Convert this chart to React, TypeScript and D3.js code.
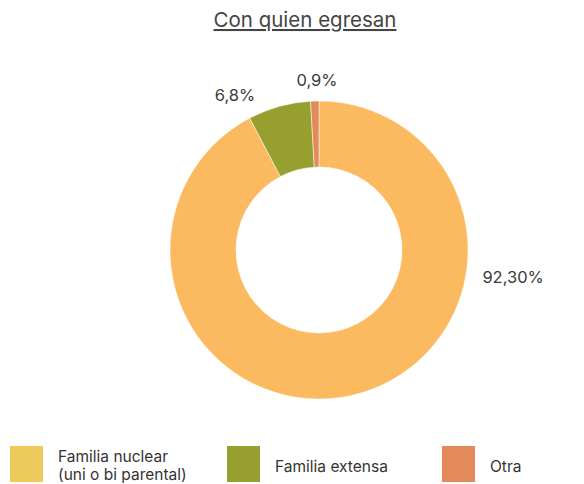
import { useMemo } from 'react';
import * as d3 from 'd3';

const CATEGORIES = ['Familia nuclear', 'Familia extensa', 'Otra'];
const LEGEND_LINES = [['Familia nuclear', '(uni o bi parental)'], ['Familia extensa'], ['Otra']];
const VALUES = [92.3, 6.8, 0.9];
const VALUE_LABELS = ['92,30%', '6,8%', '0,9%'];
const SLICE_COLORS = ['#fbb960', '#97a02f', '#e38a5a'];
const LEGEND_COLORS = ['#edc85a', '#97a02f', '#e38a5a'];

const W = 584;
const H = 484;
const CX = 319;
const CY = 250;
const R_OUT = 149;
const R_IN = 83;

// where each value label sits: angle (deg from 12 o'clock) and distance
const LABEL_POS = [
  { a: 98, r: 196 },
  { a: 331.5, r: 176 },
  { a: 359.3, r: 170 },
];

export default function App() {
  const arcs = useMemo(() => {
    const pie = d3
      .pie<number>()
      .sort(null)
      .value((d) => d);
    return pie(VALUES);
  }, []);

  const arc = d3.arc<d3.PieArcDatum<number>>().innerRadius(R_IN).outerRadius(R_OUT);
  const legendX = d3.scaleOrdinal<number, number>().domain([0, 1, 2]).range([10, 227, 442]);

  return (
    <svg
      width={W}
      height={H}
      style={{ position: 'absolute', left: 0, top: 0, fontFamily: 'Inter, sans-serif' }}
    >
      <rect width={W} height={H} fill="#fff" />
      <text
        x={305}
        y={27}
        textAnchor="middle"
        fontSize={20.5}
        fill="#444"
        textDecoration="underline"
      >
        Con quien egresan
      </text>

      <g transform={`translate(${CX},${CY})`}>
        {arcs.map((d, i) => (
          <path key={CATEGORIES[i]} d={arc(d) ?? ''} fill={SLICE_COLORS[i]} stroke="#fff" strokeWidth={0.5} />
        ))}
        {VALUE_LABELS.map((t, i) => {
          const a = (LABEL_POS[i].a * Math.PI) / 180;
          return (
            <text
              key={t}
              x={Math.sin(a) * LABEL_POS[i].r}
              y={-Math.cos(a) * LABEL_POS[i].r}
              textAnchor="middle"
              dominantBaseline="central"
              fontSize={16.5}
              fill="#3a3a3a"
            >
              {t}
            </text>
          );
        })}
      </g>

      <g>
        {CATEGORIES.map((c, i) => {
          const x = legendX(i);
          const lines = LEGEND_LINES[i];
          return (
            <g key={c}>
              <rect x={x} y={446} width={33} height={36} fill={LEGEND_COLORS[i]} />
              {lines.map((ln, j) => (
                <text
                  key={ln}
                  x={x + 48}
                  y={lines.length === 1 ? 472 : 462 + j * 18}
                  fontSize={15.5}
                  fill="#333"
                >
                  {ln}
                </text>
              ))}
            </g>
          );
        })}
      </g>
    </svg>
  );
}
